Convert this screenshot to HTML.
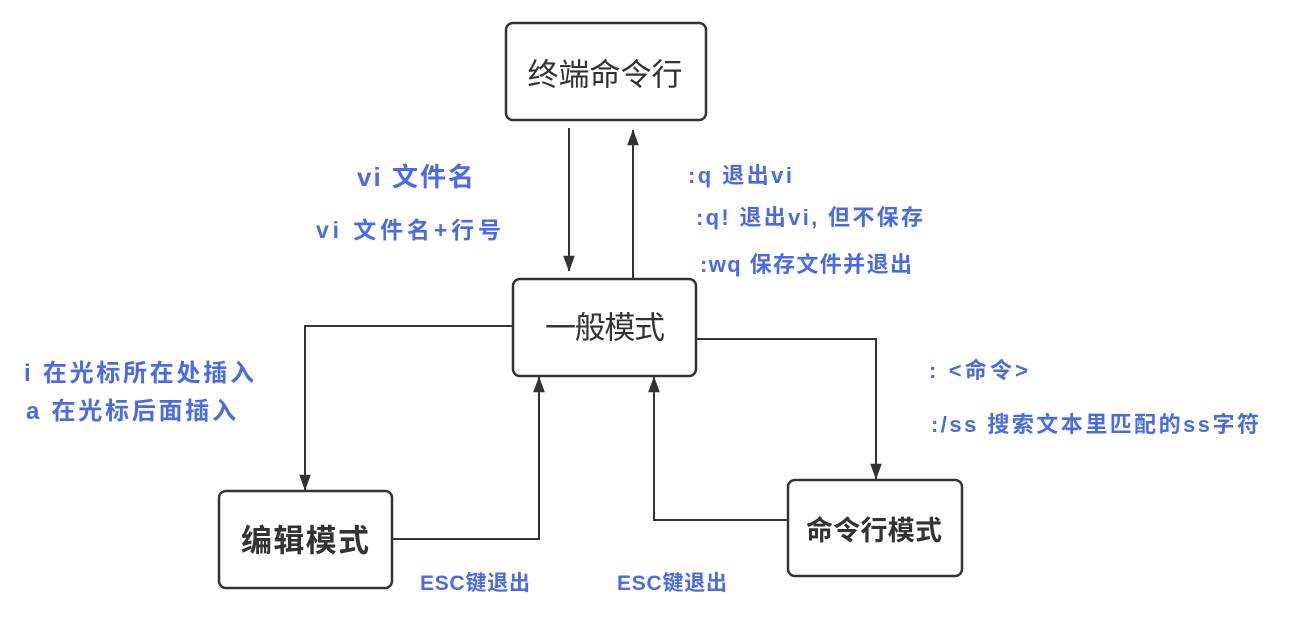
<!DOCTYPE html>
<html><head><meta charset="utf-8"><style>html,body{margin:0;padding:0;background:#fff;}svg{display:block}</style></head>
<body>
<svg width="1301" height="628" viewBox="0 0 1301 628" xmlns="http://www.w3.org/2000/svg" font-family="'Liberation Sans','Noto Sans CJK SC',sans-serif">
<defs>
<marker id="a" markerWidth="16" markerHeight="16" refX="21" refY="8" orient="auto" markerUnits="userSpaceOnUse" viewBox="0 0 22 16">
<path d="M0,0 L22,8 L0,16 Z" fill="#333"/>
</marker>
</defs>
<g fill="#fff" stroke="#333" stroke-width="2.5">
<rect x="506" y="23" width="200" height="97" rx="7"/>
<rect x="513" y="279" width="183" height="97" rx="7"/>
<rect x="219" y="491" width="173" height="97" rx="7"/>
<rect x="788" y="480" width="174" height="96" rx="7"/>
</g>
<g fill="none" stroke="#333" stroke-width="2" marker-end="url(#a)">
<path d="M569,128 V271"/>
<path d="M633,279 V130"/>
<path d="M513,326 H305 V490"/>
<path d="M392,539 H539 V377"/>
<path d="M696,339 H876 V479"/>
<path d="M788,520 H654 V377"/>
</g>
<g fill="#333" text-anchor="middle" dominant-baseline="central">
<text x="605" y="75" font-size="31" textLength="155">终端命令行</text>
<text x="605" y="328" font-size="31" textLength="120">一般模式</text>
<text x="305" y="541" font-size="31" font-weight="bold" textLength="128">编辑模式</text>
<text x="874" y="531" font-size="27" font-weight="bold" textLength="136">命令行模式</text>
</g>
<g fill="#4a6ae8" font-weight="bold">
<text x="357" y="186" font-size="26" textLength="117">vi 文件名</text>
<text x="316" y="238" font-size="23" textLength="185">vi 文件名+行号</text>
<text x="688" y="183" font-size="22" textLength="104">:q 退出vi</text>
<text x="696" y="225" font-size="22" textLength="227">:q! 退出vi, 但不保存</text>
<text x="700" y="272" font-size="22" textLength="212">:wq 保存文件并退出</text>
<text x="24" y="381" font-size="24" textLength="230">i 在光标所在处插入</text>
<text x="26" y="419" font-size="24" textLength="210">a 在光标后面插入</text>
<text x="929" y="378" font-size="22" textLength="99">: &lt;命令&gt;</text>
<text x="931" y="432" font-size="22" textLength="328">:/ss 搜索文本里匹配的ss字符</text>
<text x="420" y="590" font-size="21" textLength="110">ESC键退出</text>
<text x="617" y="590" font-size="21" textLength="110">ESC键退出</text>
</g>
</svg>
</body></html>
